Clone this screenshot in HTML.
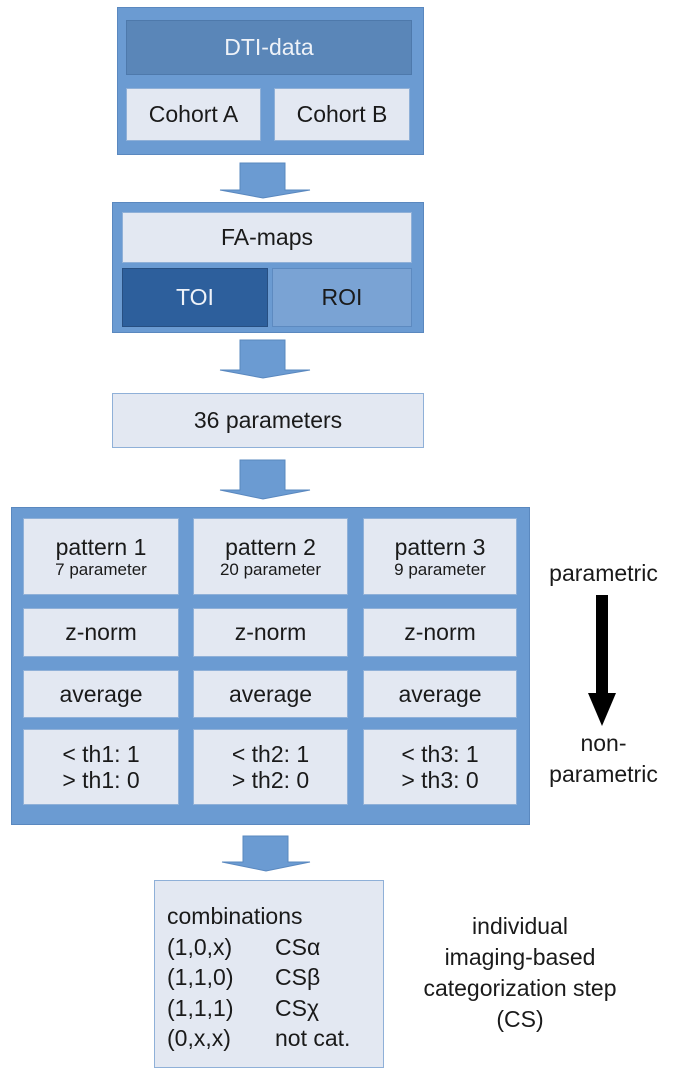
<!DOCTYPE html>
<html><head><meta charset="utf-8"><style>
body{margin:0;width:677px;height:1075px;background:#fff;position:relative;font-family:"Liberation Sans",sans-serif;color:#1a1a1a;overflow:hidden}
.a{position:absolute;box-sizing:border-box}
.o{background:#6b9bd2;border:1px solid #5a88bf}
.c{background:#e3e8f2;border:1px solid #8fb0d8;display:flex;align-items:center;justify-content:center;text-align:center;font-size:23px;line-height:1.15}
.s{font-size:17px}
.r{display:block;position:relative;height:30.5px}
.r b{font-weight:normal;position:absolute;left:108px;top:0}
</style></head><body>
<div class="a o" style="left:117px;top:7px;width:307px;height:148px"></div>
<div class="a c" style="left:126px;top:20px;width:286px;height:55px;background:#5a86b8;border-color:#4e79ab;color:#eef2f8">DTI-data</div>
<div class="a c" style="left:126px;top:88px;width:135px;height:53px">Cohort A</div>
<div class="a c" style="left:274px;top:88px;width:136px;height:53px">Cohort B</div>

<div class="a o" style="left:112px;top:202px;width:312px;height:131px"></div>
<div class="a c" style="left:122px;top:212px;width:290px;height:51px">FA-maps</div>
<div class="a c" style="left:122px;top:268px;width:146px;height:59px;background:#2d5f9c;border-color:#274f82;color:#eef2f8">TOI</div>
<div class="a c" style="left:272px;top:268px;width:140px;height:59px;background:#7aa3d4;border-color:#5d8ac0">ROI</div>

<div class="a c" style="left:112px;top:393px;width:312px;height:55px">36 parameters</div>

<div class="a o" style="left:11px;top:507px;width:519px;height:318px"></div>
<div class="a c" style="left:23px;top:518px;width:156px;height:77px;flex-direction:column">pattern 1<span class="s">7 parameter</span></div>
<div class="a c" style="left:193px;top:518px;width:155px;height:77px;flex-direction:column">pattern 2<span class="s">20 parameter</span></div>
<div class="a c" style="left:363px;top:518px;width:154px;height:77px;flex-direction:column">pattern 3<span class="s">9 parameter</span></div>
<div class="a c" style="left:23px;top:608px;width:156px;height:49px">z-norm</div>
<div class="a c" style="left:193px;top:608px;width:155px;height:49px">z-norm</div>
<div class="a c" style="left:363px;top:608px;width:154px;height:49px">z-norm</div>
<div class="a c" style="left:23px;top:670px;width:156px;height:48px">average</div>
<div class="a c" style="left:193px;top:670px;width:155px;height:48px">average</div>
<div class="a c" style="left:363px;top:670px;width:154px;height:48px">average</div>
<div class="a c" style="left:23px;top:729px;width:156px;height:76px">&lt; th1: 1<br>&gt; th1: 0</div>
<div class="a c" style="left:193px;top:729px;width:155px;height:76px">&lt; th2: 1<br>&gt; th2: 0</div>
<div class="a c" style="left:363px;top:729px;width:154px;height:76px">&lt; th3: 1<br>&gt; th3: 0</div>

<div class="a" style="left:530px;top:560px;width:147px;text-align:center;font-size:23px">parametric</div>
<div class="a" style="left:530px;top:728px;width:147px;text-align:center;font-size:23px;line-height:31px">non-<br>parametric</div>

<div class="a c" style="left:154px;top:880px;width:230px;height:188px;display:block;text-align:left;padding:20px 0 0 12px;line-height:30.5px">
<span class="r">combinations</span>
<span class="r">(1,0,x)<b>CSα</b></span>
<span class="r">(1,1,0)<b>CSβ</b></span>
<span class="r">(1,1,1)<b>CSχ</b></span>
<span class="r">(0,x,x)<b>not cat.</b></span>
</div>
<div class="a" style="left:400px;top:911px;width:240px;text-align:center;font-size:23px;line-height:31px">individual<br>imaging-based<br>categorization step<br>(CS)</div>

<svg class="a" style="left:0;top:0" width="677" height="1075">
<g fill="#6b9bd2" stroke="#5a88bf">
<polygon points="240,163 285,163 285,190 310,190 263,198 220,190 240,190"/>
<polygon points="240,340 285,340 285,370 310,370 263,378 220,370 240,370"/>
<polygon points="240,460 285,460 285,490 310,490 263,499 220,490 240,490"/>
<polygon points="243,836 288,836 288,862 310,862 266,871 222,862 243,862"/>
</g>
<rect x="596" y="595" width="12" height="100" fill="#000"/>
<polygon points="588,693 616,693 602,726" fill="#000"/>
</svg>
</body></html>
